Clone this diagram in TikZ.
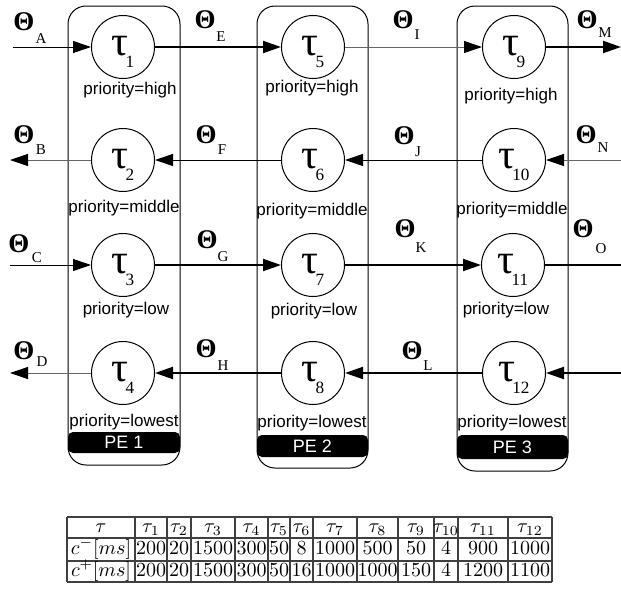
\documentclass[tikz,border=0pt]{standalone}
\usepackage{fontspec}
\usetikzlibrary{arrows.meta}
\newfontfamily\lserif{Liberation Serif}
\newfontfamily\lsans{Liberation Sans}
\newcommand\taulab[1]{{\lserif\fontsize{21}{21}\selectfont τ}\kern-1.5pt\raisebox{-6pt}{\lserif\fontsize{8.6}{9}\selectfont #1}}
\begin{document}
\begin{tikzpicture}[x=0.5pt,y=-0.5pt,
  task/.style={circle,draw,line width=0.5pt,minimum size=31.5pt,inner sep=0pt,text height=10pt,text depth=2pt},
  prio/.style={font=\lsans\fontsize{8.5}{10}\selectfont,inner sep=0pt},
  pebox/.style={draw,line width=0.5pt,rounded corners=9pt},
  pebar/.style={fill=black,rounded corners=2.5pt},
  pelab/.style={font=\lsans\fontsize{9}{10}\selectfont,text=white,inner sep=0pt},
  theta/.style={font=\lserif\bfseries\fontsize{13.5}{14}\selectfont,inner sep=0pt},
  thsub/.style={font=\lserif\fontsize{7.5}{8}\selectfont,inner sep=0pt},
  lthin/.style={line width=0.5pt},
  lgray/.style={line width=0.5pt,draw=black!60},
  lthick/.style={line width=1pt},
  head/.style={-{Triangle[length=9pt,width=6pt,color=black]}},
  cell/.style={inner sep=0pt,text height=7pt,text depth=2.5pt},
  tline/.style={line width=0.6pt,draw=black!75}
]
\useasboundingbox (0,0) rectangle (621,589);

% PE boxes
\fill[pebar] (68,432) rectangle (180,453);
\draw[pebox] (68,6) rectangle (180,465);
\node[pelab] (pe1) at (124,442.5) {PE 1};
\fill[pebar] (257,435) rectangle (368,457);
\draw[pebox] (257,6) rectangle (368,468);
\node[pelab] (pe2) at (312.5,446) {PE 2};
\fill[pebar] (457,435) rectangle (568,459);
\draw[pebox] (457,6) rectangle (568,471);
\node[pelab] (pe3) at (512.5,447) {PE 3};

% tasks
\node[task] (t1) at (123,47) {\taulab{1}};
\node[task] (t2) at (123,160) {\taulab{2}};
\node[task] (t3) at (123,265) {\taulab{3}};
\node[task] (t4) at (123,373) {\taulab{4}};
\node[task] (t5) at (313,47) {\taulab{5}};
\node[task] (t6) at (313,160) {\taulab{6}};
\node[task] (t7) at (313,265) {\taulab{7}};
\node[task] (t8) at (313,373) {\taulab{8}};
\node[task] (t9) at (514,47) {\taulab{9}};
\node[task] (t10) at (514,160) {\taulab{10}};
\node[task] (t11) at (513,265) {\taulab{11}};
\node[task] (t12) at (514,373) {\taulab{12}};

% priorities
\node[prio] (p1) at (130,90) {priority=high};
\node[prio] (p2) at (124,208) {priority=middle};
\node[prio] (p3) at (126,310) {priority=low};
\node[prio] (p4) at (124,422) {priority=lowest};
\node[prio] (p5) at (312,88) {priority=high};
\node[prio] (p6) at (312,211) {priority=middle};
\node[prio] (p7) at (314,311) {priority=low};
\node[prio] (p8) at (312,423) {priority=lowest};
\node[prio] (p9) at (511,96) {priority=high};
\node[prio] (p10) at (512,210) {priority=middle};
\node[prio] (p11) at (506,310) {priority=low};
\node[prio] (p12) at (512,423) {priority=lowest};

% free ends
\coordinate (ea) at (13,47);
\coordinate (em) at (621,47);
\coordinate (eb) at (10,160);
\coordinate (en) at (621,160);
\coordinate (ec) at (10,265);
\coordinate (eo) at (621,265);
\coordinate (ed) at (10,373);
\coordinate (ep) at (621,373);

% connectors
\draw[lthin,head] (ea) -- (t1);
\draw[lthick,head] (t1) -- (t5);
\draw[lgray,head] (t5) -- (t9);
\draw[lthick,head] (t9) -- (em);
\draw[lgray,head] (t2) -- (eb);
\draw[lthin,head] (t6) -- (t2);
\draw[lthin,head] (t10) -- (t6);
\draw[lgray,head] (en) -- (t10);
\draw[lthin,head] (ec) -- (t3);
\draw[lthick,head] (t3) -- (t7);
\draw[lthick,head] (t7) -- (t11);
\draw[lthick] (t11) -- (eo);
\draw[lgray,head] (t4) -- (ed);
\draw[lthick,head] (t8) -- (t4);
\draw[lthick,head] (t12) -- (t8);
\draw[lthick,head] (ep) -- (t12);

% Theta labels
\node[theta] (thA) at (24,22) {Θ};   \node[thsub] (sA) at (41,39) {A};
\node[theta] (thE) at (205,19.5) {Θ}; \node[thsub] (sE) at (221,37) {E};
\node[theta] (thI) at (403,20) {Θ};  \node[thsub] (sI) at (417,35) {I};
\node[theta] (thM) at (587,20) {Θ};  \node[thsub] (sM) at (605,33) {M};
\node[theta] (thB) at (24,134.5) {Θ}; \node[thsub] (sB) at (41,150) {B};
\node[theta] (thF) at (206,134.5) {Θ}; \node[thsub] (sF) at (222,150) {F};
\node[theta] (thJ) at (404,136) {Θ}; \node[thsub] (sJ) at (418,152) {J};
\node[theta] (thN) at (586,135) {Θ}; \node[thsub] (sN) at (603,148) {N};
\node[theta] (thC) at (19,244) {Θ};  \node[thsub] (sC) at (37,258) {C};
\node[theta] (thG) at (207,240) {Θ}; \node[thsub] (sG) at (223,257) {G};
\node[theta] (thK) at (405,229) {Θ}; \node[thsub] (sK) at (421,248) {K};
\node[theta] (thO) at (583,229) {Θ}; \node[thsub] (sO) at (601,249) {O};
\node[theta] (thD) at (24,351) {Θ};  \node[thsub] (sD) at (42,362) {D};
\node[theta] (thH) at (206,349) {Θ}; \node[thsub] (sH) at (223,366) {H};
\node[theta] (thL) at (412,351) {Θ}; \node[thsub] (sL) at (428,366) {L};

% table
\foreach \xx in {67,135,167,191,235,268,290,313,357,398,434,458,508,552}
  \draw[tline] (\xx,517) -- (\xx,582);
\foreach \yy in {517,538,561,582}
  \draw[tline] (67,\yy) -- (552,\yy);
\foreach \xx/\ha/\hb/\hc [count=\i] in {
  101/{$\tau$}/{$c^{-}[ms]$}/{$c^{+}[ms]$},
  151/{$\tau_1$}/200/200,
  179/{$\tau_2$}/20/20,
  213/{$\tau_3$}/1500/1500,
  251.5/{$\tau_4$}/300/300,
  279/{$\tau_5$}/50/50,
  301.5/{$\tau_6$}/8/16,
  335/{$\tau_7$}/1000/1000,
  377.5/{$\tau_8$}/500/1000,
  416/{$\tau_9$}/50/150,
  446/{$\tau_{10}$}/4/4,
  483/{$\tau_{11}$}/900/1200,
  530/{$\tau_{12}$}/1000/1100}
{
  \node[cell] (h\i) at (\xx,527.5) {\ha};
  \node[cell] (r\i) at (\xx,549.5) {\hb};
  \node[cell] (s\i) at (\xx,571.5) {\hc};
}
\end{tikzpicture}
\end{document}
